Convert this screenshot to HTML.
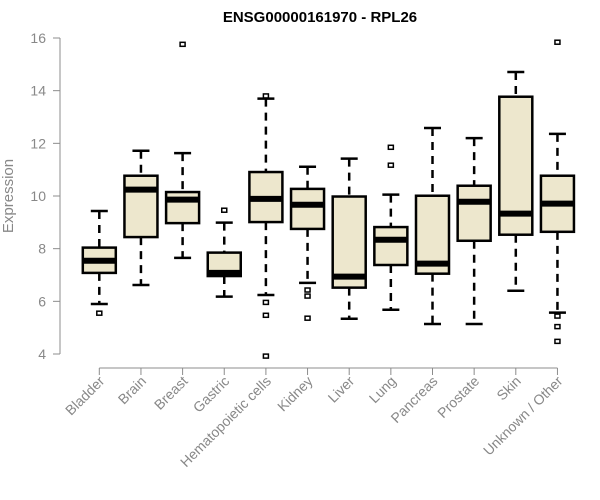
<!DOCTYPE html>
<html><head><meta charset="utf-8"><style>
html,body{margin:0;padding:0;background:#fff;}
svg{display:block;font-family:"Liberation Sans",Arial,sans-serif;}
</style></head><body>
<svg id="chart" width="600" height="500">
<text x="320" y="22" text-anchor="middle" font-weight="bold" font-size="15" fill="#000">ENSG00000161970 - RPL26</text>
<text transform="translate(13,196) rotate(-90)" text-anchor="middle" font-size="15" fill="#888">Expression</text>
<g id="yaxis"></g>
<g id="xaxis"></g>
<g id="boxes"></g>
</svg>
<script>
const categories=["Bladder","Brain","Breast","Gastric","Hematopoietic cells","Kidney","Liver","Lung","Pancreas","Prostate","Skin","Unknown / Other"];
const lowerWhisker=[5.90,6.62,7.65,6.18,6.24,6.70,5.34,5.68,5.14,5.14,6.40,5.57];
const q1=[7.08,8.44,8.97,6.96,9.01,8.75,6.52,7.38,7.05,8.30,8.53,8.64];
const median=[7.54,10.24,9.86,7.08,9.89,9.67,6.94,8.34,7.43,9.78,9.33,9.71];
const q3=[8.04,10.77,10.15,7.85,10.91,10.27,9.98,8.82,10.01,10.39,13.77,10.77];
const upperWhisker=[9.43,11.72,11.63,8.99,13.70,11.11,11.42,10.05,12.58,12.20,14.71,12.36];
const outliers=[[5.55],[],[15.76],[9.46],[13.8,5.96,5.47,3.92],[6.43,6.20,5.36],[],[11.85,11.17],[],[],[],[15.84,5.44,5.04,4.48]];
const yTicks=[4,6,8,10,12,14,16];

const NS="http://www.w3.org/2000/svg";
function y(v){return 354-(v-4)*(316/12);}
function x(i){return 99.3+i*41.65;}
function mk(parent,tag,attrs){const e=document.createElementNS(NS,tag);for(const k in attrs)e.setAttribute(k,attrs[k]);parent.appendChild(e);return e;}
const ya=document.getElementById('yaxis'),xa=document.getElementById('xaxis'),bx=document.getElementById('boxes');
const axc="#8c8c8c";
let l=mk(ya,'line',{x1:60,x2:60,y1:y(4),y2:y(16),stroke:axc,'stroke-width':1});


yTicks.forEach(t=>{
 const tk=mk(ya,'line',{x1:53,x2:60,y1:y(t),y2:y(t),stroke:axc});
 
 
 const tx=mk(ya,'text',{x:46,y:y(t)+5,'text-anchor':'end','font-size':14,fill:'#888'});
 tx.textContent=t;
 
 
});
l=mk(xa,'line',{x1:x(0),x2:x(11),y1:368,y2:368,stroke:axc});


categories.forEach((c,i)=>{
 const tk=mk(xa,'line',{x1:x(i),x2:x(i),y1:368,y2:375,stroke:axc});
 
 
 const tx=mk(xa,'text',{transform:`translate(${x(i)+6},382) rotate(-45)`,'text-anchor':'end','font-size':14,fill:'#888'});
 tx.textContent=c;
 
 
 const g=mk(bx,'g',{});
 
 
 const cx=x(i),hw=16.5;
 mk(g,'line',{x1:cx,x2:cx,y1:y(upperWhisker[i]),y2:y(q3[i]),stroke:'#000','stroke-width':2.5,'stroke-dasharray':'8,6'});
 mk(g,'line',{x1:cx,x2:cx,y1:y(q1[i]),y2:y(lowerWhisker[i]),stroke:'#000','stroke-width':2.5,'stroke-dasharray':'8,6'});
 mk(g,'line',{x1:cx-8.5,x2:cx+8.5,y1:y(upperWhisker[i]),y2:y(upperWhisker[i]),stroke:'#000','stroke-width':2.5});
 mk(g,'line',{x1:cx-8.5,x2:cx+8.5,y1:y(lowerWhisker[i]),y2:y(lowerWhisker[i]),stroke:'#000','stroke-width':2.5});
 mk(g,'rect',{x:cx-hw,y:y(q3[i]),width:hw*2,height:y(q1[i])-y(q3[i]),fill:'#ede7cd',stroke:'#000','stroke-width':2.5});
 mk(g,'line',{x1:cx-hw,x2:cx+hw,y1:y(median[i]),y2:y(median[i]),stroke:'#000','stroke-width':6});
 outliers[i].forEach(o=>{
  const p=mk(g,'rect',{x:cx-2.5,y:y(o)-2,width:5,height:4,fill:'#fff',stroke:'#000','stroke-width':1.5});
  
  
 });
});
</script>
</body></html>
